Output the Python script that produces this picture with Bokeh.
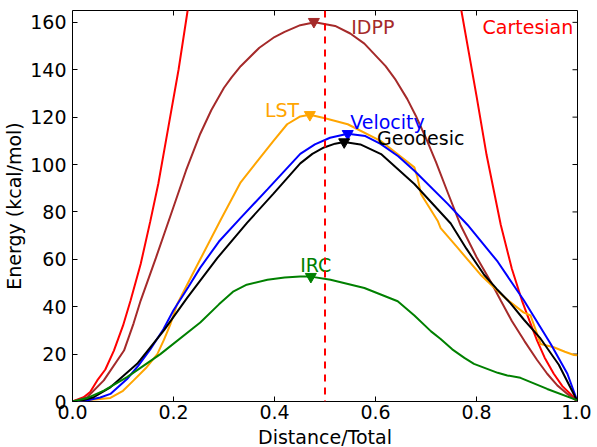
from bokeh.plotting import figure
from bokeh.models import FixedTicker, NumeralTickFormatter, Range1d, Span
from bokeh.core.properties import value
from bokeh.embed import file_html
from bokeh.resources import INLINE

# ---- data ----
cart_x = [0, 0.022, 0.035, 0.049, 0.065, 0.082, 0.1, 0.115, 0.135, 0.154, 0.17, 0.19, 0.21, 0.228, 0.26,
          0.74, 0.77, 0.785, 0.80, 0.82, 0.848, 0.87, 0.89, 0.905, 0.92, 0.935, 0.953, 0.97, 0.986, 1.0]
cart_e = [0, 1.8, 4, 8.9, 13.5, 21.5, 32, 42.6, 58, 76, 92, 116, 140, 165, 215,
          200, 165, 147, 129, 104, 74.6, 56, 42.6, 34, 25.7, 18.5, 11.7, 6.5, 3.2, 0]

idpp_x = [0, 0.029, 0.062, 0.102, 0.121, 0.135, 0.165, 0.194, 0.225, 0.253, 0.275, 0.3, 0.315, 0.333, 0.37, 0.40,
          0.42, 0.451, 0.48, 0.52, 0.55, 0.578, 0.62, 0.64, 0.663, 0.68, 0.70, 0.72, 0.743, 0.768, 0.8, 0.828,
          0.848, 0.87, 0.895, 0.92, 0.94, 0.96, 0.98, 1.0]
idpp_e = [0, 1.8, 8.9, 21.5, 33, 42.6, 60.5, 78.4, 97.6, 113, 123, 132.4, 136.8, 141.5, 149.3, 153.8,
          156, 158.8, 160, 158.5, 155.3, 151, 141.5, 135.7, 127.6, 120.5, 111.1, 100.9, 88.2, 74.6, 61, 50.6,
          42.6, 34, 25.5, 17.5, 11.7, 6.8, 3.2, 0]

lst_x = [0, 0.022, 0.05, 0.075, 0.1, 0.121, 0.145, 0.168, 0.181, 0.194, 0.207, 0.23, 0.253, 0.293, 0.333, 0.372,
         0.398, 0.425, 0.451, 0.47, 0.50, 0.545, 0.61, 0.677, 0.683, 0.69, 0.723, 0.729, 0.762, 0.808, 0.855,
         0.893, 0.907, 0.927, 0.953, 0.975, 0.993, 1.0]
lst_e = [0, 0.5, 1.0, 1.5, 4.5, 8.9, 14, 20, 26, 32.7, 41, 50.5, 60, 76.5, 92.5, 103,
         110, 117, 120.3, 121, 119.5, 117, 110, 98.8, 94.6, 87.6, 76.3, 73.2, 65, 53.5, 44,
         37.6, 36.3, 24.3, 22.9, 21, 19.6, 19.5]

vel_x = [0, 0.03, 0.055, 0.075, 0.108, 0.13, 0.154, 0.18, 0.2, 0.23, 0.253, 0.29, 0.333, 0.386, 0.451, 0.48,
         0.51, 0.545, 0.58, 0.61, 0.645, 0.677, 0.743, 0.782, 0.842, 0.894, 0.947, 0.98, 1.0]
vel_e = [0, 0.5, 1.7, 3.2, 9.5, 15, 22, 30.5, 38.5, 48.5, 56.5, 67.5, 77.5, 89.5, 104.5, 108.5,
         111.3, 113, 112, 108.7, 103.5, 97.4, 83.4, 74.6, 59, 42.6, 24.3, 11.7, 0]

geo_x = [0, 0.02, 0.042, 0.075, 0.128, 0.181, 0.227, 0.287, 0.346, 0.398, 0.451, 0.475, 0.498, 0.52, 0.538,
         0.57, 0.611, 0.677, 0.749, 0.78, 0.815, 0.84, 0.867, 0.894, 0.927, 0.963, 1.0]
geo_e = [0, 0.5, 1.8, 6, 15.9, 30, 43.7, 60.6, 75.5, 87.7, 100.5, 104.5, 107.2, 108.8, 109.5,
         108.5, 104.4, 91.8, 75.1, 64.5, 53.5, 47.5, 41.5, 34.5, 26.5, 15.5, 0]

irc_x = [0, 0.03, 0.062, 0.108, 0.174, 0.253, 0.29, 0.319, 0.345, 0.386, 0.42, 0.451, 0.472, 0.511, 0.578,
         0.644, 0.677, 0.71, 0.729, 0.752, 0.776, 0.795, 0.842, 0.861, 0.887, 0.94, 1.0]
irc_e = [0, 1.5, 4.6, 10.3, 20, 33.3, 41, 46.5, 49.3, 51.4, 52.3, 52.8, 52.7, 51.4, 47.9,
         42.3, 36.3, 29.6, 26.4, 22, 18.4, 15.9, 12.1, 11, 10, 5.3, 0.5]

peak_x = [0.478, 0.47, 0.545, 0.538, 0.472]
peak_e = [160.3, 121, 113, 109.5, 52.7]
peak_colors = ["brown", "orange", "blue", "black", "green"]

label_text = ["IDPP", "Cartesian", "LST", "Velocity", "Geodesic", "IRC"]
label_x = [0.552, 0.812, 0.381, 0.55, 0.603, 0.451]
label_e = [158.2, 158.2, 123.1, 117.9, 111.4, 57.4]
label_colors = ["brown", "red", "orange", "blue", "black", "green"]

ts_x = 0.5

x_ticks = [0, 0.2, 0.4, 0.6, 0.8, 1.0]
y_ticks = [0, 20, 40, 60, 80, 100, 120, 140, 160]

X_MIN, X_MAX = 0, 1
Y_MIN, Y_MAX = 0, 165

FONT = "DejaVu Sans"
FS = "19px"
FRAME_W, FRAME_H = 505, 391
TICK_PX = 5

p = figure(frame_width=FRAME_W, frame_height=FRAME_H, output_backend="svg", toolbar_location=None,
           x_range=Range1d(X_MIN, X_MAX), y_range=Range1d(Y_MIN, Y_MAX),
           min_border_left=66, min_border_right=14, min_border_top=10, min_border_bottom=40)
p.background_fill_color = "white"
p.border_fill_color = "white"
p.outline_line_color = "black"
p.outline_line_width = 1
p.grid.visible = False

for ax in (p.xaxis[0], p.yaxis[0]):
    ax.major_tick_in = TICK_PX
    ax.major_tick_out = 0
    ax.minor_tick_line_color = None
    ax.axis_line_color = None
    ax.major_label_text_font = FONT
    ax.major_label_text_font_size = FS
    ax.major_label_text_color = "black"
    ax.axis_label_text_font = FONT
    ax.axis_label_text_font_size = FS
    ax.axis_label_text_font_style = "normal"
    ax.axis_label_text_color = "black"

p.xaxis.ticker = FixedTicker(ticks=x_ticks)
p.xaxis.formatter = NumeralTickFormatter(format="0.0")
p.yaxis.ticker = FixedTicker(ticks=y_ticks)
p.xaxis.axis_label = "Distance/Total"
p.yaxis.axis_label = "Energy (kcal/mol)"
p.xaxis.major_label_standoff = 3
p.xaxis.axis_label_standoff = 4
p.yaxis.major_label_standoff = 6
p.yaxis.axis_label_standoff = 2

# mirrored tick marks on the top and right edges
tx = TICK_PX * (X_MAX - X_MIN) / FRAME_W
ty = TICK_PX * (Y_MAX - Y_MIN) / FRAME_H
p.segment(x0=x_ticks, y0=[Y_MAX] * len(x_ticks), x1=x_ticks, y1=[Y_MAX - ty] * len(x_ticks),
          line_color="black", line_width=1)
p.segment(x0=[X_MAX] * len(y_ticks), y0=y_ticks, x1=[X_MAX - tx] * len(y_ticks), y1=y_ticks,
          line_color="black", line_width=1)

LW = 2
p.line(cart_x, cart_e, color="red", line_width=LW)
p.line(idpp_x, idpp_e, color="brown", line_width=LW)
p.line(lst_x, lst_e, color="orange", line_width=LW)
p.line(vel_x, vel_e, color="blue", line_width=LW)
p.line(geo_x, geo_e, color="black", line_width=LW)
p.line(irc_x, irc_e, color="green", line_width=LW)

p.add_layout(Span(location=ts_x, dimension="height", line_color="red",
                  line_width=2, line_dash="7 6"))

p.scatter(peak_x, peak_e, marker="inverted_triangle", size=11,
          fill_color=peak_colors, line_color=peak_colors)

p.text(label_x, label_e, text=label_text, text_color=label_colors,
       text_font=value(FONT), text_font_size=FS,
       text_align="left", text_baseline="alphabetic")

open("out.html", "w").write(file_html(p, INLINE))
